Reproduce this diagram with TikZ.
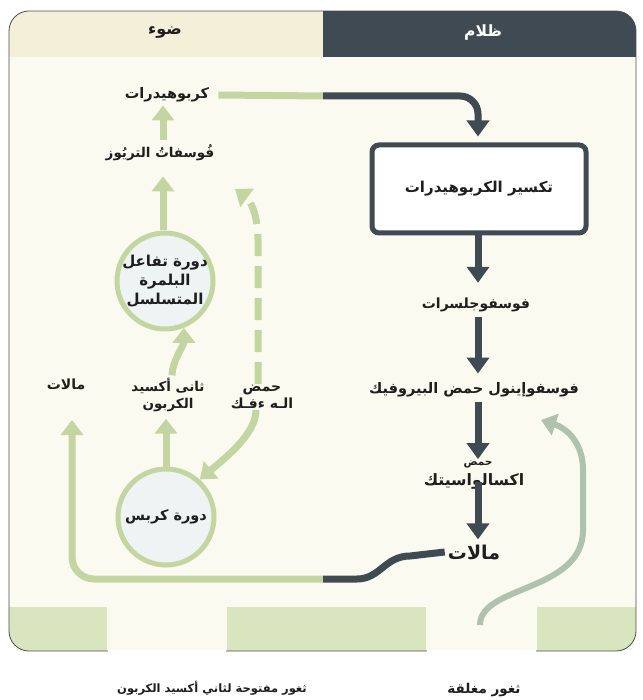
\documentclass[tikz,border=0pt]{standalone}
\usepackage{fontspec}
\usetikzlibrary{arrows.meta}
\TeXXeTstate=1
\newfontfamily\arfont[Script=Arabic]{DejaVu Sans}
\newcommand\AR[1]{\beginR #1\endR}
\definecolor{darkc}{HTML}{3F4A52}
\definecolor{lgreen}{HTML}{C3D6A2}
\definecolor{sage}{HTML}{AEC3AD}
\definecolor{bandc}{HTML}{D8E5BE}
\definecolor{creamc}{HTML}{FBFAF1}
\definecolor{hdrc}{HTML}{F3EFD9}
\definecolor{cfill}{HTML}{EEF3F3}
\definecolor{txt}{HTML}{1E1E1E}
\begin{document}
\begin{tikzpicture}[x=1pt,y=-1pt,
  fs/.style={font=\arfont\bfseries\fontsize{#1}{\dimexpr #1pt*6/5\relax}\selectfont},
  lbl/.style={fs=14, text=txt, align=center, inner sep=1pt},
  garrow/.style={draw=lgreen, line width=7pt, -{Triangle[width=22pt,length=15pt]}},
  sarrow/.style={draw=sage, line width=6pt, -{Triangle[width=22pt,length=15pt]}},
  darrow/.style={draw=darkc, line width=7pt, -{Triangle[width=22pt,length=16pt]}},
  cyc/.style={circle, draw=lgreen, line width=5pt, fill=cfill, minimum size=96pt, inner sep=0pt}]
\fill[white] (0,0) rectangle (642,700);
\useasboundingbox (0,0) rectangle (642,700);
% frame and bands
\begin{scope}
\clip[rounded corners=20pt] (9,11) rectangle (636,651);
\fill[creamc] (9,11) rectangle (636,651);
\fill[hdrc] (9,11) rectangle (323,57);
\fill[darkc] (323,11) rectangle (636,57);
\fill[bandc] (9,607) rectangle (107,651);
\fill[bandc] (227,607) rectangle (426,651);
\fill[bandc] (537,607) rectangle (636,651);
\end{scope}
\draw[gray!60!black, line width=0.8pt, rounded corners=20pt] (9,11) rectangle (636,651);
\draw[white, line width=2pt] (108,651) -- (226,651) (427,651) -- (536,651);
% headers
\node[lbl, fs=16] (hl) at (165,33) {\AR{ضوء}};
\node[lbl, text=white, fs=15.5] (hr) at (483,33) {\AR{ظلام}};
% left nodes
\node[lbl, fs=14.5] (carb) at (167,95) {\AR{كربوهيدرات}};
\node[lbl, fs=13.5] (triose) at (160,153) {\AR{فُوسفاتُ التريُوز}};
\node[cyc] (calvin) at (165,281) {};
\node[lbl, fs=15, font=\arfont\bfseries\fontsize{15}{19}\selectfont] (calvint) at (calvin.center) {\AR{دورة تفاعل}\\\AR{البلمرة}\\\AR{المتسلسل}};
\node[lbl, fs=13.5] (co2) at (168,395) {\AR{ثانى أكسيد}\\\AR{الكربون}};
\node[lbl, fs=14] (malic) at (262,397) {\AR{حمض}\\\AR{الـه ءفـك}};
\node[lbl, fs=14] (malL) at (66,384) {\AR{مالات}};
\node[cyc] (krebs) at (166,517) {};
\node[lbl, fs=14.5] (krebst) at (krebs.center) {\AR{دورة كربس}};
% right nodes
\node[draw=darkc, line width=5pt, rounded corners=7pt, fill=white, minimum width=214pt, minimum height=88pt, lbl, fs=15] (box) at (479,189) {\AR{تكسير الكربوهيدرات}};
\node[lbl, fs=14] (pga) at (476,305) {\AR{فوسفوجلسرات}};
\node[lbl, fs=14.5] (pep) at (474,390) {\AR{فوسفوإينول حمض البيروفيك}};
\node[lbl, fs=10.5] (oaa1) at (478,464) {\AR{حمض}};
\node[lbl, fs=15.7] (oaa2) at (474,481) {\AR{اكسالواسيتك}};
\node[lbl, fs=19] (malR) at (474,552) {\AR{مالات}};
% bottom labels
\node[lbl, fs=11.5] (open) at (212,688) {\AR{ثغور مفتوحة لثاني أكسيد الكربون}};
\node[lbl, fs=13.5] (closed) at (484,690) {\AR{ثغور مغلقة}};
% coordinates
\coordinate (topmid) at (323,96);
\coordinate (botmid) at (323,579);
\coordinate (sstart) at (480,625);
\coordinate (stip) at (541,420);
\coordinate (vx) at (163,0);
\coordinate (rx) at (478,0);
% top connectors
\draw[lgreen, line width=7pt] ([xshift=8pt]carb.east) -- (topmid);
\draw[darrow, rounded corners=18pt, shorten >=6pt] (topmid) -- (rx |- topmid) -- (rx |- box.north);
% left arrows
\draw[garrow, shorten <=4pt, shorten >=2pt] (vx |- triose.north) -- (vx |- carb.south);
\draw[garrow, shorten >=14pt] (vx |- calvin.north) -- (vx |- triose.south);
\draw[garrow, shorten <=2pt] ([xshift=4pt]co2.north) .. controls +(0,-16) and +(0,18) .. (calvin.-68);
\draw[garrow, shorten >=6pt] (krebs.north) -- (krebs.north |- co2.south);
\draw[garrow] ([xshift=-6pt]malic.south) .. controls +(0,24) and +(26,-22) .. (krebs.48);
\draw[garrow, dash pattern=on 22pt off 10pt] ([xshift=-4pt]malic.north) -- (258,240) .. controls (258,215) and (250,200) .. (235,189);
\draw[garrow, rounded corners=22pt, shorten >=36pt] (botmid) -- (72,579) -- (72,384);
\draw[darkc, line width=7pt] (botmid) -- (357,579) .. controls (380,579) and (385,556) .. (410,556) -- ([xshift=-2pt]malR.west);
% right arrows
\draw[darrow, shorten >=14pt] (rx |- box.south) -- (rx |- pga.north);
\draw[darrow, shorten <=4pt, shorten >=8pt] (rx |- pga.south) -- (rx |- pep.north);
\draw[darrow, shorten <=4pt, shorten >=0pt] (rx |- pep.south) -- (rx |- oaa1.north);
\draw[darrow, shorten <=-8pt, shorten >=4pt] (rx |- oaa2.south) -- (rx |- malR.north);
\draw[sarrow] (sstart) .. controls (480,585) and (583,592) .. (583,530) -- (583,470) .. controls (583,442) and (566,428) .. (stip);
\end{tikzpicture}
\end{document}
